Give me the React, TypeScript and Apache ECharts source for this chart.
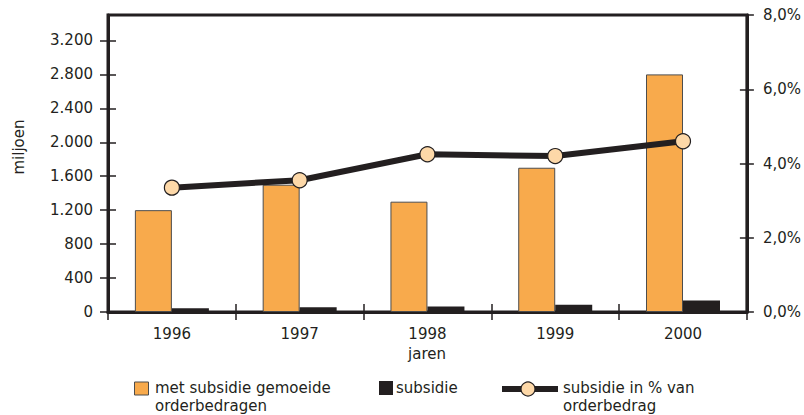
import React, { useEffect, useRef } from "react";
import * as echarts from "echarts";

const years = ["1996", "1997", "1998", "1999", "2000"];
const orderAmounts = [1200, 1500, 1300, 1700, 2800];
const subsidies = [45, 55, 65, 85, 135];
const subsidyPct = [3.35, 3.55, 4.25, 4.2, 4.6];
const leftTicks = [0, 400, 800, 1200, 1600, 2000, 2400, 2800, 3200];

const INK = "#231f20";
const ORANGE = "#f8aa4c";
const PEACH = "#fdd8a8";
const FONT = "'DejaVu Sans', Verdana, sans-serif";

const fmtThousands = (v: number) =>
  String(v).replace(/\B(?=(\d{3})+(?!\d))/g, ".");
const fmtPct = (v: number) => v.toFixed(1).replace(".", ",") + "%";

export default function App() {
  const ref = useRef<HTMLDivElement>(null);
  useEffect(() => {
    if (!ref.current) return;
    const chart = echarts.init(ref.current, undefined, { renderer: "svg" });
    const gridPos = { left: 108, right: 57, top: 15, bottom: 103 };
    const tickStyle = { color: INK, width: 1.5 };
    const axisLine = { show: true, lineStyle: { color: INK, width: 3 } };
    const labelFont = { color: INK, fontSize: 15, fontFamily: FONT };
    const option: any = {
      animation: false,
      backgroundColor: "#ffffff",
      textStyle: { fontFamily: FONT },
      grid: {
        ...gridPos,
        show: true,
        borderColor: INK,
        borderWidth: 3,
        backgroundColor: "transparent",
      },
      xAxis: [
        {
          type: "category",
          data: years,
          position: "bottom",
          boundaryGap: true,
          axisLine,
          axisTick: { show: true, length: 8, lineStyle: tickStyle },
          axisLabel: { ...labelFont, margin: 14 },
          splitLine: { show: false },
        },
        {
          type: "category",
          data: years,
          position: "bottom",
          boundaryGap: true,
          axisLine: { show: false },
          axisTick: { show: true, inside: true, length: 8, lineStyle: tickStyle },
          axisLabel: { show: false },
          splitLine: { show: false },
        },
      ],
      yAxis: [
        {
          type: "value",
          position: "left",
          min: 0,
          max: 3500,
          interval: 400,
          axisLine,
          axisTick: {
            show: true,
            length: 8,
            lineStyle: tickStyle,
            customValues: leftTicks,
          },
          axisLabel: {
            ...labelFont,
            margin: 15,
            formatter: (v: number) => fmtThousands(v),
            customValues: leftTicks,
          },
          splitLine: { show: false },
        },
        {
          type: "value",
          position: "right",
          min: 0,
          max: 8,
          interval: 2,
          axisLine,
          axisTick: { show: true, length: 7, lineStyle: tickStyle },
          axisLabel: {
            ...labelFont,
            margin: 16,
            formatter: (v: number) => fmtPct(v),
          },
          splitLine: { show: false },
        },
        {
          type: "value",
          position: "left",
          min: 0,
          max: 3500,
          interval: 400,
          axisLine: { show: false },
          axisTick: {
            show: true,
            inside: true,
            length: 8,
            lineStyle: tickStyle,
            customValues: leftTicks,
          },
          axisLabel: { show: false, customValues: leftTicks },
          splitLine: { show: false },
        },
        {
          type: "value",
          position: "right",
          min: 0,
          max: 8,
          interval: 2,
          axisLine: { show: false },
          axisTick: { show: true, inside: true, length: 7, lineStyle: tickStyle },
          axisLabel: { show: false },
          splitLine: { show: false },
        },
      ],
      series: [
        {
          name: "met subsidie gemoeide orderbedragen",
          type: "bar",
          xAxisIndex: 0,
          yAxisIndex: 0,
          data: orderAmounts,
          barWidth: 37,
          barGap: "0%",
          itemStyle: { color: ORANGE, borderColor: "#4d4d4d", borderWidth: 1 },
          z: 2,
        },
        {
          name: "subsidie",
          type: "bar",
          xAxisIndex: 0,
          yAxisIndex: 0,
          data: subsidies,
          barWidth: 37,
          barGap: "0%",
          itemStyle: { color: INK },
          z: 2,
        },
        {
          name: "subsidie in % van orderbedrag",
          type: "line",
          xAxisIndex: 0,
          yAxisIndex: 1,
          data: subsidyPct,
          symbol: "circle",
          symbolSize: 15,
          showSymbol: true,
          lineStyle: { color: INK, width: 6 },
          itemStyle: { color: PEACH, borderColor: INK, borderWidth: 1.2 },
          z: 5,
        },
      ],
      graphic: [
        {
          type: "text",
          x: 19,
          y: 147,
          rotation: Math.PI / 2,
          style: {
            text: "miljoen",
            fill: INK,
            font: `15px ${FONT}`,
            align: "center",
            verticalAlign: "middle",
          },
        },
        {
          type: "text",
          x: 427,
          y: 354,
          style: {
            text: "jaren",
            fill: INK,
            font: `15px ${FONT}`,
            align: "center",
            verticalAlign: "middle",
          },
        },
        {
          type: "rect",
          shape: { x: 134.5, y: 382, width: 14, height: 13 },
          style: { fill: ORANGE, stroke: "#4d4d4d", lineWidth: 1 },
        },
        {
          type: "text",
          left: 155,
          top: 379,
          style: {
            text: "met subsidie gemoeide\norderbedragen",
            fill: INK,
            font: `15px ${FONT}`,
            lineHeight: 18,
          },
        },
        {
          type: "rect",
          shape: { x: 379, y: 381, width: 14, height: 14 },
          style: { fill: INK },
        },
        {
          type: "text",
          left: 396,
          top: 379,
          style: {
            text: "subsidie",
            fill: INK,
            font: `15px ${FONT}`,
            lineHeight: 18,
          },
        },
        {
          type: "line",
          shape: { x1: 502, y1: 389, x2: 558, y2: 389 },
          style: { stroke: INK, lineWidth: 6 },
        },
        {
          type: "circle",
          shape: { cx: 528, cy: 389, r: 7 },
          style: { fill: PEACH, stroke: INK, lineWidth: 1.2 },
        },
        {
          type: "text",
          left: 563,
          top: 379,
          style: {
            text: "subsidie in % van\norderbedrag",
            fill: INK,
            font: `15px ${FONT}`,
            lineHeight: 18,
          },
        },
      ],
    };
    chart.setOption(option);
    return () => chart.dispose();
  }, []);
  return (
    <div
      ref={ref}
      style={{ position: "fixed", left: 0, top: 0, width: 804, height: 415 }}
    />
  );
}
